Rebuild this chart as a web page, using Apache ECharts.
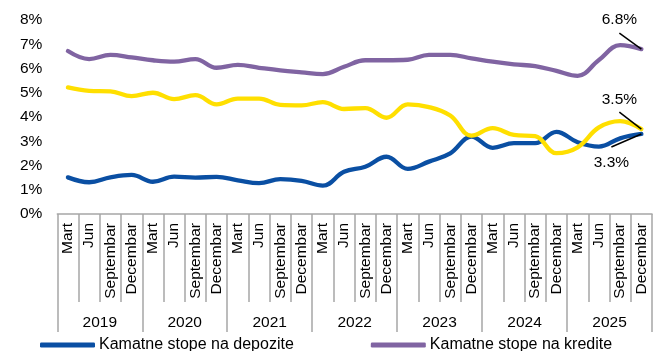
<!DOCTYPE html>
<html>
<head>
<meta charset="utf-8">
<script src="https://cdn.jsdelivr.net/npm/echarts@6/dist/echarts.min.js"></script>
<style>
  html, body { margin: 0; padding: 0; background: #fff; }
  #chart { width: 656px; height: 351px; }
</style>
</head>
<body>
<div id="chart"></div>
<script>
// Quarterly interest rates, 2019–2025 (percent)
const years = ['2019', '2020', '2021', '2022', '2023', '2024', '2025'];
const quarterNames = ['Mart', 'Jun', 'Septembar', 'Decembar'];
const quarters = years.flatMap(() => quarterNames);

const depositRates = [
  1.51, 1.31, 1.51, 1.61,
  1.33, 1.54, 1.50, 1.53,
  1.39, 1.27, 1.44, 1.37,
  1.17, 1.74, 1.95, 2.36,
  1.86, 2.16, 2.50, 3.19,
  2.73, 2.92, 2.92, 3.39,
  2.96, 2.78, 3.12, 3.30
];
const loanRates = [
  6.72, 6.39, 6.56, 6.46,
  6.34, 6.28, 6.39, 6.03,
  6.15, 6.03, 5.92, 5.84,
  5.77, 6.07, 6.34, 6.34,
  6.36, 6.56, 6.56, 6.42,
  6.28, 6.17, 6.10, 5.90,
  5.70, 6.35, 6.96, 6.80
];
const spreadRates = [
  5.22, 5.08, 5.06, 4.86,
  5.00, 4.74, 4.90, 4.52,
  4.76, 4.76, 4.50, 4.48,
  4.61, 4.33, 4.37, 3.97,
  4.52, 4.41, 4.06, 3.23,
  3.54, 3.26, 3.21, 2.51,
  2.75, 3.57, 3.83, 3.50
];

const seriesNames = ['Kamatne stope na depozite', 'Kamatne stope na kredite', 'Kamatna razlika'];
const seriesColors = ['#0a4fa3', '#8064a2', '#ffdf00'];

const FONT = '"Liberation Sans", Arial, sans-serif';
const chart = echarts.init(document.getElementById('chart'), null, { renderer: 'canvas' });

function lineSeries(name, data, color) {
  return {
    name: name,
    type: 'line',
    data: data,
    xAxisIndex: 0,
    yAxisIndex: 0,
    smooth: 0.4,
    showSymbol: false,
    symbol: 'none',
    lineStyle: { color: color, width: 4.3, cap: 'round', join: 'round' },
    itemStyle: { color: color },
    emphasis: { disabled: true },
    animation: false
  };
}

chart.setOption({
  animation: false,
  textStyle: { fontFamily: FONT },
  grid: { left: 57.3, right: 4, top: 20, bottom: 137, containLabel: false },
  legend: {
    data: [seriesNames[0], seriesNames[1]],
    left: 35,
    top: 332,
    icon: 'roundRect',
    itemWidth: 55,
    itemHeight: 5,
    itemGap: 77,
    textStyle: { fontFamily: FONT, fontSize: 16, color: '#000', padding: [0, 0, 0, -1] },
    selectedMode: false
  },
  xAxis: [
    {
      type: 'category',
      data: quarters,
      boundaryGap: true,
      axisLine: { show: true, lineStyle: { color: '#a6a6a6', width: 1.5 } },
      axisTick: { show: true, interval: 0, length: 88, lineStyle: { color: '#a6a6a6', width: 1.5 } },
      axisLabel: {
        interval: 0, rotate: 90, margin: 9,
        fontFamily: FONT, fontSize: 15.5, color: '#000'
      },
      splitLine: { show: false }
    },
    {
      type: 'category',
      data: years,
      position: 'bottom',
      boundaryGap: true,
      axisLine: { show: false },
      axisTick: { show: true, interval: 0, length: 118, lineStyle: { color: '#a6a6a6', width: 1.5 } },
      axisLabel: {
        interval: 0, margin: 101,
        fontFamily: FONT, fontSize: 15.5, color: '#000'
      },
      splitLine: { show: false }
    }
  ],
  yAxis: {
    type: 'value',
    min: 0,
    max: 8,
    interval: 1,
    axisLine: { show: false },
    axisTick: { show: false },
    splitLine: { show: false },
    axisLabel: {
      formatter: '{value}%', margin: 15,
      fontFamily: FONT, fontSize: 15.5, color: '#000'
    }
  },
  series: [
    lineSeries(seriesNames[0], depositRates, seriesColors[0]),
    lineSeries(seriesNames[1], loanRates, seriesColors[1]),
    lineSeries(seriesNames[2], spreadRates, seriesColors[2])
  ]
});

// Callouts for the latest quarter, anchored to the last point of each line
const lastIdx = quarters.length - 1;
const callouts = [
  { values: loanRates, line: [-22, -16], text: [-22, -29] },
  { values: spreadRates, line: [-22, -17], text: [-22, -29] },
  { values: depositRates, line: [-30, 13], text: [-30, 29] }
];
const graphics = [];
callouts.forEach(c => {
  const v = c.values[lastIdx];
  const p = chart.convertToPixel({ xAxisIndex: 0, yAxisIndex: 0 }, [lastIdx, v]);
  graphics.push({
    type: 'line',
    z: 100,
    shape: { x1: p[0] + c.line[0], y1: p[1] + c.line[1], x2: p[0], y2: p[1] },
    style: { stroke: '#000', lineWidth: 1.5 }
  });
  graphics.push({
    type: 'text',
    z: 100,
    x: p[0] + c.text[0],
    y: p[1] + c.text[1],
    style: {
      text: v.toFixed(1) + '%',
      font: '15.5px ' + FONT,
      fill: '#000',
      align: 'center',
      verticalAlign: 'middle'
    }
  });
});
chart.setOption({ graphic: graphics });
</script>
</body>
</html>
